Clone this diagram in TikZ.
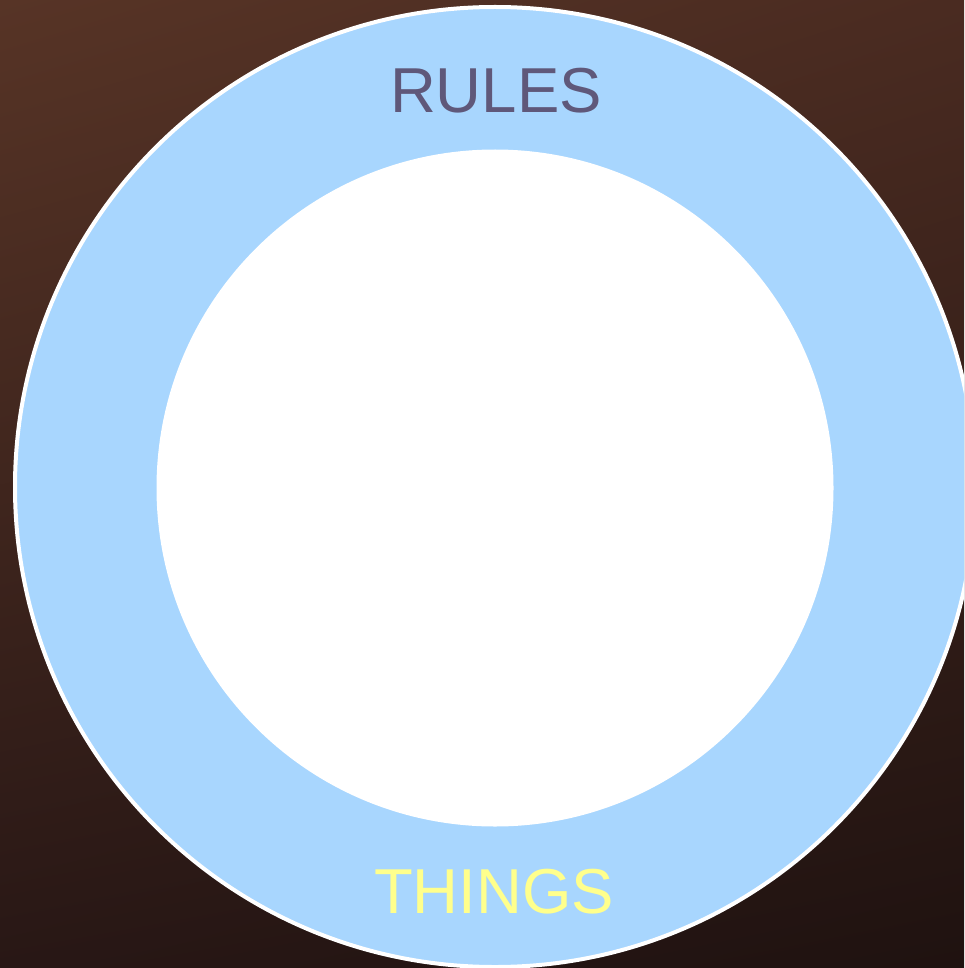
\documentclass[tikz,border=0pt]{standalone}
\usepackage{fontspec}
\setmainfont{Liberation Sans}
\usetikzlibrary{shadings}
\definecolor{ringblue}{HTML}{A8D6FE}
\definecolor{rulesgrey}{HTML}{5F587A}
\definecolor{thingsyellow}{HTML}{FFFF8C}
\definecolor{woodtl}{HTML}{573426}
\definecolor{woodtr}{HTML}{4A2B21}
\definecolor{woodbl}{HTML}{281715}
\definecolor{woodbr}{HTML}{1F1210}
\begin{document}
\begin{tikzpicture}[x=1pt,y=-1pt,
  ringtext/.style={font=\fontsize{63.5}{70}\selectfont, inner sep=0pt}]
\useasboundingbox (0,0) rectangle (964,968);
\shade[upper left=woodtl, upper right=woodtr, lower left=woodbl, lower right=woodbr] (0,0) rectangle (964,968);

\begin{scope}
\clip (0,0) rectangle (964,968);
\node[circle, draw=white, line width=4pt, fill=ringblue, minimum size=960pt, inner sep=0pt] (ring) at (495,487) {};
\end{scope}
\node[circle, fill=white, minimum size=677pt, inner sep=0pt] (hole) at (495,488) {};

\node[ringtext, text=rulesgrey, anchor=base] (rules) at (496,113) {RULES};
\node[ringtext, text=thingsyellow, anchor=base] (things) at (494,913) {THINGS};
\end{tikzpicture}
\end{document}
